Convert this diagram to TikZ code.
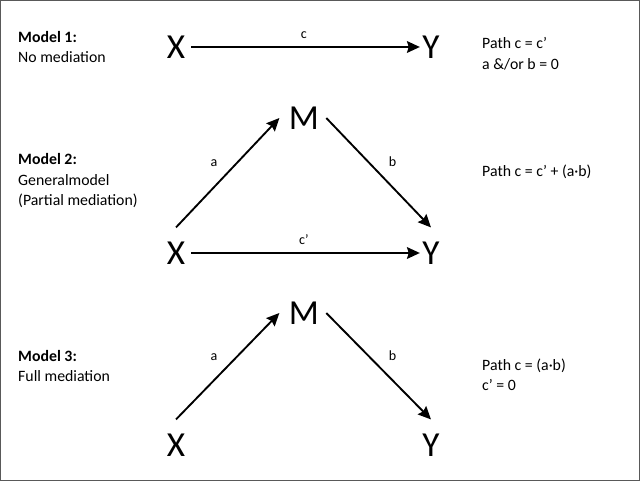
\documentclass[tikz,border=0pt]{standalone}
\usepackage{fontspec}
\setmainfont{Carlito}
\usetikzlibrary{arrows.meta,positioning}

\begin{document}
\begin{tikzpicture}[x=0.03cm,y=-0.03cm,
  var/.style={font=\fontsize{30}{31}\selectfont,inner sep=2pt},
  desc/.style={anchor=west,align=left,font=\fontsize{13.5}{17.5}\selectfont,inner sep=0pt},
  path/.style={->,>={Stealth[length=11pt,width=10pt,inset=1.5pt]},line width=1.6pt},
  lbl/.style={font=\fontsize{12}{14}\selectfont,inner sep=2pt}
]
\useasboundingbox (0,0) rectangle (640,481);
\draw[gray!70!black,line width=1.5pt] (0.6,0.6) rectangle (639.4,480.4);

% Model 1
\node[var] (X1) at (176,47) {X};
\node[var] (Y1) at (431,47) {Y};
\draw[path,shorten <=3pt] (X1) -- node[lbl,above=4pt]{c} (Y1);
\node[desc] (m1) at (18,47) {\textbf{Model 1:}\\No mediation};
\node[desc] (p1) at (482,54) {Path c = c’\\a \&/or b = 0};

% Model 2
\node[var] (M2) at (304,118) {M};
\node[var] (X2) at (176,253) {X};
\node[var] (Y2) at (431,253) {Y};
\draw[path] ([yshift=10pt]X2.north) -- node[lbl,above left=2pt and 6pt]{a} ([xshift=-6pt]M2.west);
\draw[path] ([xshift=4pt]M2.east) -- node[lbl,above right=2pt and 6pt]{b} ([yshift=10pt]Y2.north);
\draw[path,shorten <=3pt] (X2) -- node[lbl,above=4pt]{c’} (Y2);
\node[desc] (m2) at (18,181) {\textbf{Model 2:}\\Generalmodel\\(Partial mediation)};
\node[desc] (p2) at (482,172) {Path c = c’ + (a·b)};

% Model 3
\node[var] (M3) at (304,313) {M};
\node[var] (X3) at (176,445) {X};
\node[var] (Y3) at (431,445) {Y};
\draw[path] ([yshift=10pt]X3.north) -- node[lbl,above left=2pt and 6pt]{a} ([xshift=-6pt]M3.west);
\draw[path] ([xshift=4pt]M3.east) -- node[lbl,above right=2pt and 6pt]{b} ([yshift=10pt]Y3.north);
\node[desc] (m3) at (18,366) {\textbf{Model 3:}\\Full mediation};
\node[desc] (p3) at (482,375) {Path c = (a·b)\\c’ = 0};
\end{tikzpicture}
\end{document}
